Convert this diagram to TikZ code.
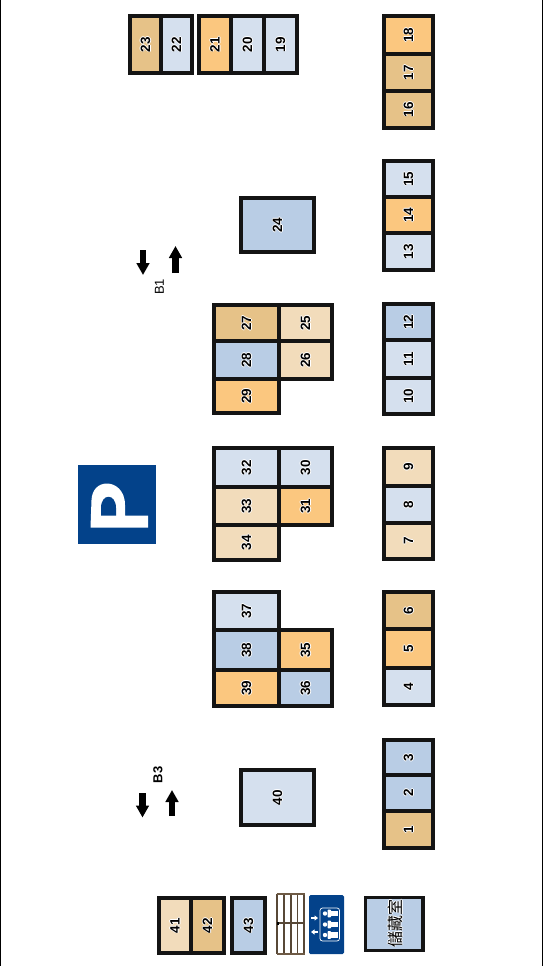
\documentclass[tikz,border=0pt]{standalone}
\usepackage{fontspec}
\setmainfont{Liberation Sans}
\newfontfamily\cjkfont{Noto Sans CJK TC}
\usetikzlibrary{arrows.meta}
\definecolor{lblue}{HTML}{D5E0EE}
\definecolor{mblue}{HTML}{B9CDE5}
\definecolor{orng}{HTML}{FBC77F}
\definecolor{tanc}{HTML}{E6C288}
\definecolor{ltan}{HTML}{F2DCBB}
\definecolor{navy}{HTML}{03428A}
\definecolor{stairc}{HTML}{6E5A45}
\newcommand{\halotext}[1]{\leavevmode\rlap{\raisebox{.9pt}{\textcolor{white}{#1}}}\rlap{\raisebox{-.9pt}{\textcolor{white}{#1}}}\rlap{\hspace{.9pt}\textcolor{white}{#1}}\rlap{\hspace{-.9pt}\textcolor{white}{#1}}#1}
\tikzset{
  x=1pt,y=-1pt,
  roomtext/.style={font=\fontsize{13.5}{13.5}\selectfont\bfseries,rotate=90,inner sep=0pt},
  roomline/.style={draw=black!92,line width=3.6pt,line join=miter},
  bigarrow/.style={-{Triangle[length=12pt,width=12.5pt]},line width=6.5pt,black},
  liftarrow/.style={white,line width=1.2pt,-{Triangle[length=3.5pt,width=5pt]}},
  stairline/.style={draw=stairc!80!black,line width=1.3pt},
}
% \room{number}{x0}{y0}{x1}{y1}{colour}
\newcommand{\room}[6]{%
  \path[fill=#6,roomline] (#2,#3) rectangle (#4,#5);
  \node[roomtext] (r#1) at ({(#2+#4)/2},{(#3+#5)/2}) {\halotext{#1}};
}
\begin{document}
\begin{tikzpicture}
\useasboundingbox (0,0) rectangle (543,966);
\fill[white] (0,0) rectangle (543,966);
\fill[black] (0,0) rectangle (1.3,966);
\fill[black] (541.7,0) rectangle (543,966);
% bottom rows
\room{1}{384}{811}{433}{848}{tanc}
\room{2}{384}{775}{433}{811}{mblue}
\room{3}{384}{740}{433}{775}{mblue}
\room{4}{384}{668}{433}{705}{lblue}
\room{5}{384}{629}{433}{668}{orng}
\room{6}{384}{592}{433}{629}{tanc}
\room{7}{384}{523}{433}{559}{ltan}
\room{8}{384}{486}{433}{523}{lblue}
\room{9}{384}{448}{433}{486}{ltan}
\room{10}{384}{378}{433}{414}{lblue}
\room{11}{384}{340}{433}{378}{lblue}
\room{12}{384}{304}{433}{340}{mblue}
\room{13}{384}{233}{433}{270}{lblue}
\room{14}{384}{197}{433}{233}{orng}
\room{15}{384}{161}{433}{197}{lblue}
\room{16}{384}{91}{433}{128}{tanc}
\room{17}{384}{54}{433}{91}{tanc}
\room{18}{384}{16}{433}{54}{orng}
% top right
\room{19}{264}{16}{297}{73}{lblue}
\room{20}{231}{16}{264}{73}{lblue}
\room{21}{199}{16}{231}{73}{orng}
\room{22}{161}{16}{192}{73}{lblue}
\room{23}{130}{16}{161}{73}{tanc}
% singles
\room{24}{241}{198}{314}{252}{mblue}
\room{40}{241}{770}{314}{825}{lblue}
% group 25-29
\room{25}{279}{305}{332}{341}{ltan}
\room{26}{279}{341}{332}{379}{ltan}
\room{27}{214}{305}{279}{341}{tanc}
\room{28}{214}{341}{279}{379}{mblue}
\room{29}{214}{379}{279}{413}{orng}
% group 30-34
\room{30}{279}{448}{332}{487}{lblue}
\room{31}{279}{487}{332}{525}{orng}
\room{32}{214}{448}{279}{487}{lblue}
\room{33}{214}{487}{279}{525}{ltan}
\room{34}{214}{525}{279}{560}{ltan}
% group 35-39
\room{35}{279}{630}{332}{670}{orng}
\room{36}{279}{670}{332}{706}{mblue}
\room{37}{214}{592}{279}{630}{lblue}
\room{38}{214}{630}{279}{670}{mblue}
\room{39}{214}{670}{279}{706}{orng}
% lower left
\room{41}{159}{898}{191}{953}{ltan}
\room{42}{191}{898}{224}{953}{tanc}
\room{43}{232}{898}{265}{953}{mblue}
% storage
\path[fill=mblue,roomline] (365.5,897.5) rectangle (423,950.5);
\node[rotate=90,inner sep=0pt,font=\cjkfont\fontsize{16}{16}\selectfont] (store) at (395,923) {\halotext{儲藏室}};
% stairs
\path[fill=white] (277,893.5) rectangle (304,953.5);
\foreach \xx in {277,284,291,297.5,304} \draw[stairline] (\xx,893.5) -- (\xx,953.5);
\draw[stairline] (277,923) -- (304,923);
\draw[stairc,line width=2pt] (276.5,893.5) -- (304.5,893.5) (276.5,953.5) -- (304.5,953.5);
\fill[black] (276.5,921.5) rectangle (278.5,924.5);
% lift sign
\fill[navy,rounded corners=1.5pt] (309,895) rectangle (344,954);
\draw[white,line width=.7pt,rounded corners=2.5pt] (320,908) rectangle (339.5,941);
\foreach \yy in {913.5,924.5,935}{
  \fill[white] (325,\yy) circle (2.2pt);
  \fill[white,rounded corners=.7pt] (327.5,{\yy-3.8}) rectangle (331,{\yy+3.8});
  \fill[white] (331,{\yy-2.6}) rectangle (337.5,{\yy+2.6});
}
\draw[liftarrow] (311,918) -- (318,918);
\draw[liftarrow] (318,932) -- (311,932);
% P sign
\fill[navy] (78,465) rectangle (156,544);
\fill[white] (90.5,527.5) -- (148,527.5) -- (148,515.5) -- (125,515.5) -- (125,505)
  .. controls (125,490) and (115,483.5) .. (107,483.5) .. controls (98,483.5) and (92,490) .. (91.5,500) -- cycle;
\fill[navy] (101,515.5) -- (116,515.5) -- (116,508) .. controls (116,493) and (101,493) .. (101,508) -- cycle;
% arrows and labels
\coordinate (b1dA) at (143,250); \coordinate (b1dB) at (143,275);
\coordinate (b1uA) at (175.5,273); \coordinate (b1uB) at (175.5,246);
\coordinate (b3dA) at (142.5,793); \coordinate (b3dB) at (142.5,817.5);
\coordinate (b3uA) at (172,816); \coordinate (b3uB) at (172,790);
\draw[bigarrow] (b1dA) -- (b1dB);
\draw[bigarrow] (b1uA) -- (b1uB);
\draw[bigarrow] (b3dA) -- (b3dB);
\draw[bigarrow] (b3uA) -- (b3uB);
\node[rotate=90,inner sep=0pt,font=\fontsize{13}{13}\selectfont] (b1) at (159.5,287) {B1};
\node[rotate=90,inner sep=0pt,font=\fontsize{13}{13}\bfseries\selectfont] (b3) at (158,775) {B3};
\end{tikzpicture}
\end{document}
